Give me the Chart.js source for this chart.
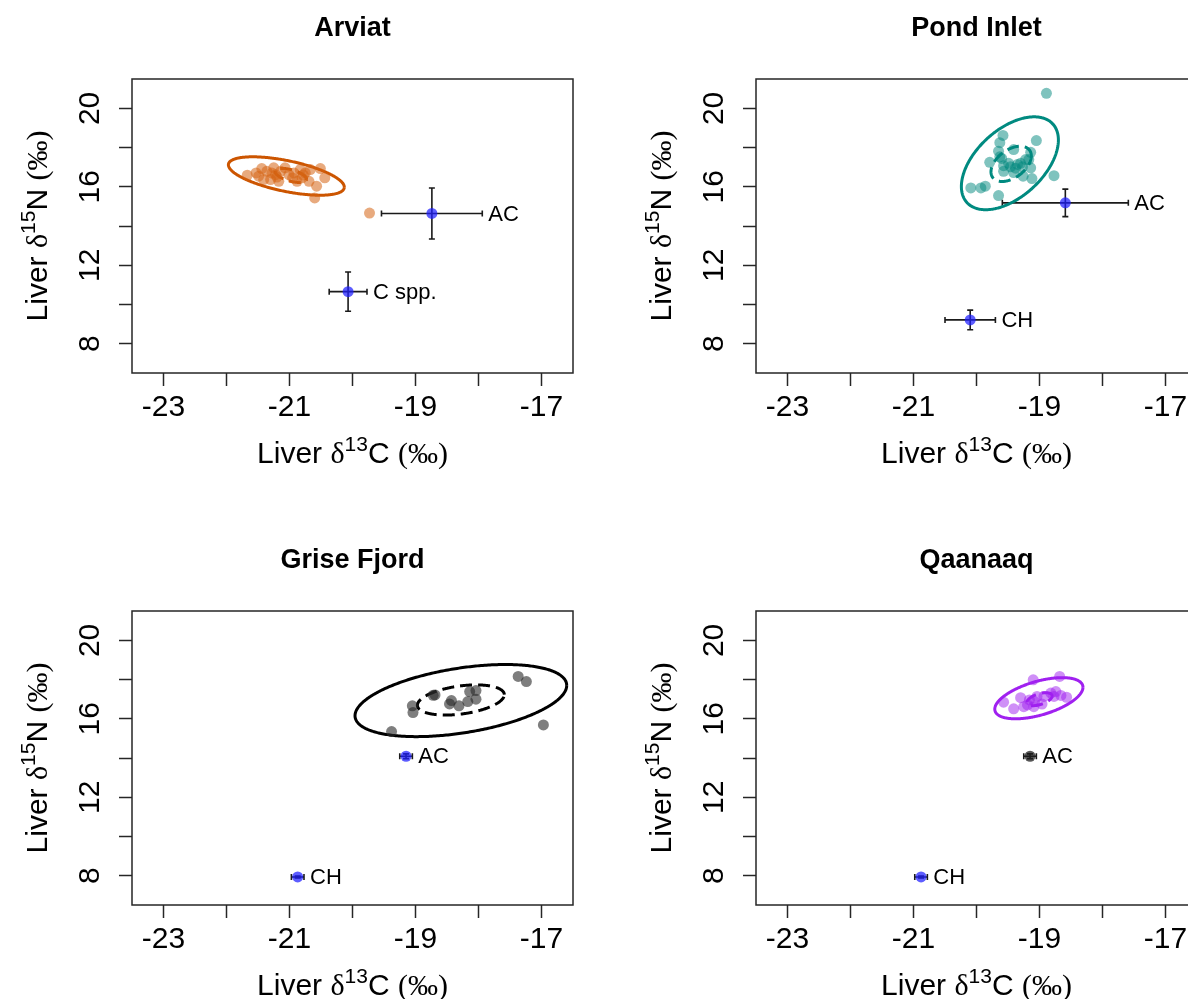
<!DOCTYPE html>
<html>
<head>
<meta charset="utf-8">
<script src="https://cdn.jsdelivr.net/npm/chart.js@4.4.1/dist/chart.umd.min.js"></script>
<style>
  html, body { margin: 0; padding: 0; background: #fff; overflow: hidden; }
  body { position: relative; width: 1188px; height: 999px; }
  canvas { position: absolute; }
</style>
</head>
<body>
<canvas id="arviat" width="594" height="500" style="left:0;top:0"></canvas>
<canvas id="pond" width="594" height="500" style="left:624px;top:0"></canvas>
<canvas id="grise" width="594" height="500" style="left:0;top:532px"></canvas>
<canvas id="qaanaaq" width="594" height="500" style="left:624px;top:532px"></canvas>
<script>
// axis ticks (shared by all four panels)
const xTicks = [-23, -22, -21, -20, -19, -18, -17];
const xTickLabels = [-23, -21, -19, -17];
const yTicks = [8, 10, 12, 14, 16, 18, 20];
const yTickLabels = [8, 12, 16, 20];

// Arviat consumers
const arviatC13 = [-21.67, -21.53, -21.44, -21.49, -21.36, -21.30, -21.25, -21.22, -21.14, -21.07, -21.01, -21.17, -20.83, -20.80, -20.88, -20.75, -20.67, -20.51, -20.44, -20.57, -20.60, -20.69, -21.41, -20.93, -21.28, -21.20, -20.95, -20.78, -19.73];
const arviatN15 = [16.59, 16.71, 16.93, 16.54, 16.79, 16.37, 16.97, 16.62, 16.79, 16.97, 16.62, 16.28, 16.88, 16.46, 16.28, 16.71, 16.88, 16.93, 16.46, 16.03, 15.43, 16.28, 16.37, 16.71, 16.70, 16.50, 16.45, 16.60, 14.66];
// ellipses: [mean C, mean N, sd C, sd N, correlation]
const arviatSEA = [-21.05, 16.55, 0.92, 0.98, -0.58];
const arviatInner = [-20.98, 16.58, 0.25, 0.36, -0.55];
// Arviat sources (mean +/- sd)
const arviatSrcNames = ['AC', 'C spp.'];
const arviatSrcC13 = [-18.74, -20.07];
const arviatSrcC13sd = [0.80, 0.30];
const arviatSrcN15 = [14.64, 10.65];
const arviatSrcN15sd = [1.30, 1.00];

// Pond Inlet
const pondC13 = [-18.89, -19.58, -19.63, -19.05, -19.41, -19.65, -19.63, -19.79, -19.14, -19.17, -19.57, -19.46, -19.35, -19.27, -19.22, -19.57, -19.41, -19.14, -19.26, -19.12, -18.77, -20.09, -19.93, -19.86, -19.65, -19.49, -19.30, -19.38, -19.60];
const pondN15 = [20.77, 18.62, 18.25, 18.36, 17.90, 17.82, 17.53, 17.25, 17.76, 17.39, 17.08, 17.02, 17.14, 17.02, 17.39, 16.79, 16.73, 16.97, 16.54, 16.42, 16.57, 15.94, 15.94, 16.03, 15.55, 17.20, 17.20, 16.95, 17.45];
const pondSEA = [-19.47, 17.20, 0.77, 2.37, 0.50];
const pondInner = [-19.45, 17.17, 0.32, 0.90, 0.45];
const pondSrcNames = ['AC', 'CH'];
const pondSrcC13 = [-18.59, -20.10];
const pondSrcC13sd = [1.00, 0.40];
const pondSrcN15 = [15.18, 9.21];
const pondSrcN15sd = [0.70, 0.50];

// Grise Fjord
const griseC13 = [-19.38, -19.05, -19.04, -18.69, -18.72, -18.43, -18.46, -18.31, -18.17, -18.14, -18.04, -18.04, -17.37, -17.24, -16.97];
const griseN15 = [15.35, 16.66, 16.32, 17.22, 17.20, 16.93, 16.76, 16.66, 16.88, 17.39, 17.44, 17.00, 18.16, 17.90, 15.69];
const griseSEA = [-18.28, 16.93, 1.68, 1.84, 0.42];
const griseInner = [-18.28, 16.96, 0.69, 0.77, 0.35];
const griseSrcNames = ['AC', 'CH'];
const griseSrcC13 = [-19.15, -20.87];
const griseSrcC13sd = [0.10, 0.10];
const griseSrcN15 = [14.09, 7.93];
const griseSrcN15sd = [0.12, 0.05];

// Qaanaaq
const qaanaaqC13 = [-19.10, -18.68, -19.57, -19.41, -19.30, -19.19, -19.16, -19.09, -19.08, -18.96, -18.93, -18.82, -18.77, -18.66, -18.57, -19.25, -19.04, -18.74];
const qaanaaqN15 = [17.99, 18.16, 16.85, 16.51, 17.08, 16.71, 16.96, 16.62, 16.88, 16.75, 17.14, 17.31, 17.14, 17.19, 17.10, 16.62, 17.14, 17.39];
const qaanaaqSEA = [-19.01, 17.05, 0.70, 1.05, 0.53];
const qaanaaqInner = [-19.00, 17.00, 0.20, 0.33, 0.50];
const qaanaaqSrcNames = ['AC', 'CH'];
const qaanaaqSrcC13 = [-19.15, -20.88];
const qaanaaqSrcC13sd = [0.10, 0.10];
const qaanaaqSrcN15 = [14.09, 7.93];
const qaanaaqSrcN15sd = [0.12, 0.05];

const SANS = '"Liberation Sans", Arial, sans-serif';
const SERIF = '"Liberation Serif", "Times New Roman", serif';
const BLUE = 'rgba(30, 30, 255, 0.72)';

const panels = [
  { id: 'arviat', title: 'Arviat', c13: arviatC13, n15: arviatN15, sea: arviatSEA, inner: arviatInner,
    line: '#cc5500', fillPt: 'rgba(214, 100, 20, 0.55)',
    src: { names: arviatSrcNames, c13: arviatSrcC13, c13sd: arviatSrcC13sd, n15: arviatSrcN15, n15sd: arviatSrcN15sd, colors: [BLUE, BLUE] } },
  { id: 'pond', title: 'Pond Inlet', c13: pondC13, n15: pondN15, sea: pondSEA, inner: pondInner,
    line: '#008a80', fillPt: 'rgba(0, 135, 125, 0.5)',
    src: { names: pondSrcNames, c13: pondSrcC13, c13sd: pondSrcC13sd, n15: pondSrcN15, n15sd: pondSrcN15sd, colors: [BLUE, BLUE] } },
  { id: 'grise', title: 'Grise Fjord', c13: griseC13, n15: griseN15, sea: griseSEA, inner: griseInner,
    line: '#000000', fillPt: 'rgba(40, 40, 40, 0.6)',
    src: { names: griseSrcNames, c13: griseSrcC13, c13sd: griseSrcC13sd, n15: griseSrcN15, n15sd: griseSrcN15sd, colors: [BLUE, BLUE] } },
  { id: 'qaanaaq', title: 'Qaanaaq', c13: qaanaaqC13, n15: qaanaaqN15, sea: qaanaaqSEA, inner: qaanaaqInner,
    line: '#a020f0', fillPt: 'rgba(160, 32, 240, 0.5)',
    src: { names: qaanaaqSrcNames, c13: qaanaaqSrcC13, c13sd: qaanaaqSrcC13sd, n15: qaanaaqSrcN15, n15sd: qaanaaqSrcN15sd, colors: ['rgba(30, 30, 30, 0.75)', BLUE] } }
];

// outline of a bivariate standard ellipse from its means, sds and correlation
function ellipsePoints(e) {
  const [cx, cy, sx, sy, rho] = e;
  const k = Math.sqrt(1 - rho * rho);
  const pts = [];
  for (let i = 0; i <= 180; i++) {
    const t = (i / 180) * 2 * Math.PI;
    pts.push({ x: cx + sx * Math.cos(t), y: cy + sy * (rho * Math.cos(t) + k * Math.sin(t)) });
  }
  return pts;
}

// draws "Liver δ<sup>NN</sup>X (‰)" centred on 0,0 at the current transform
function drawIsoLabel(ctx, sup, el) {
  const parts = [
    { t: 'Liver ', f: '30px ' + SANS, dy: 0 },
    { t: 'δ', f: '30px ' + SERIF, dy: 0 },
    { t: sup, f: '21px ' + SANS, dy: -12 },
    { t: el + ' ', f: '30px ' + SANS, dy: 0 },
    { t: '(‰)', f: '30px ' + SERIF, dy: 0 }
  ];
  let total = 0;
  parts.forEach(p => { ctx.font = p.f; p.w = ctx.measureText(p.t).width; total += p.w; });
  let x = -total / 2;
  ctx.textAlign = 'left';
  ctx.textBaseline = 'alphabetic';
  parts.forEach(p => {
    ctx.font = p.f;
    ctx.fillText(p.t, x, p.dy);
    x += p.w;
  });
}

function makeDecor(panel) {
  return {
    id: 'decor_' + panel.id,
    beforeDatasetsDraw(chart) {
      const { ctx, scales: { x, y } } = chart;
      const s = panel.src;
      ctx.save();
      ctx.strokeStyle = '#1a1a1a';
      ctx.lineWidth = 1.6;
      s.c13.forEach((c, i) => {
        const px = x.getPixelForValue(c);
        const py = y.getPixelForValue(s.n15[i]);
        const x0 = x.getPixelForValue(c - s.c13sd[i]);
        const x1 = x.getPixelForValue(c + s.c13sd[i]);
        const y0 = y.getPixelForValue(s.n15[i] - s.n15sd[i]);
        const y1 = y.getPixelForValue(s.n15[i] + s.n15sd[i]);
        ctx.beginPath();
        ctx.moveTo(x0, py); ctx.lineTo(x1, py);
        ctx.moveTo(x0, py - 3); ctx.lineTo(x0, py + 3);
        ctx.moveTo(x1, py - 3); ctx.lineTo(x1, py + 3);
        ctx.moveTo(px, y0); ctx.lineTo(px, y1);
        ctx.moveTo(px - 3, y0); ctx.lineTo(px + 3, y0);
        ctx.moveTo(px - 3, y1); ctx.lineTo(px + 3, y1);
        ctx.stroke();
      });
      ctx.restore();
    },
    afterDraw(chart) {
      const { ctx, chartArea: a, scales: { x, y } } = chart;
      const s = panel.src;
      ctx.save();
      // frame
      ctx.strokeStyle = '#262626';
      ctx.lineWidth = 1.5;
      ctx.strokeRect(a.left, a.top, a.right - a.left, a.bottom - a.top);
      // source labels
      ctx.fillStyle = '#000';
      ctx.font = '22px ' + SANS;
      ctx.textAlign = 'left';
      ctx.textBaseline = 'middle';
      s.names.forEach((n, i) => {
        const lx = x.getPixelForValue(s.c13[i] + s.c13sd[i]) + 6;
        ctx.fillText(n, lx, y.getPixelForValue(s.n15[i]) + 1);
      });
      // panel title
      const cx = (a.left + a.right) / 2;
      ctx.font = 'bold 27px ' + SANS;
      ctx.textAlign = 'center';
      ctx.textBaseline = 'alphabetic';
      ctx.fillText(panel.title, cx, 36);
      // axis titles
      ctx.save();
      ctx.translate(cx, 463);
      drawIsoLabel(ctx, '13', 'C');
      ctx.restore();
      ctx.save();
      ctx.translate(47, (a.top + a.bottom) / 2);
      ctx.rotate(-Math.PI / 2);
      drawIsoLabel(ctx, '15', 'N');
      ctx.restore();
      ctx.restore();
    }
  };
}

function buildChart(panel) {
  const consumers = panel.c13.map((c, i) => ({ x: c, y: panel.n15[i] }));
  const sources = panel.src.c13.map((c, i) => ({ x: c, y: panel.src.n15[i] }));
  new Chart(document.getElementById(panel.id), {
    type: 'scatter',
    data: {
      datasets: [
        { data: sources, pointRadius: 5.5, pointBackgroundColor: panel.src.colors, pointBorderWidth: 0 },
        { data: consumers, pointRadius: 5.5, pointBackgroundColor: panel.fillPt, pointBorderWidth: 0 },
        { data: ellipsePoints(panel.inner), showLine: true, pointRadius: 0, borderColor: panel.line, borderWidth: 3, borderDash: [12, 6], tension: 0.1 },
        { data: ellipsePoints(panel.sea), showLine: true, pointRadius: 0, borderColor: panel.line, borderWidth: 3, tension: 0.1 }
      ]
    },
    options: {
      responsive: false,
      animation: false,
      devicePixelRatio: 1,
      layout: { padding: { left: 0, right: 21, top: 79, bottom: 0 } },
      plugins: { legend: { display: false }, tooltip: { enabled: false }, title: { display: false } },
      scales: {
        x: {
          type: 'linear', min: -23.5, max: -16.5,
          afterBuildTicks: s => { s.ticks = xTicks.map(v => ({ value: v })); },
          afterFit: s => { s.height = 127; },
          grid: { drawOnChartArea: false, drawTicks: true, tickLength: 13, tickColor: '#262626', tickWidth: 1.5 },
          border: { display: false },
          ticks: { autoSkip: false, maxRotation: 0, padding: 4, color: '#000', font: { family: SANS, size: 30 },
            callback: v => xTickLabels.includes(v) ? String(v) : '' }
        },
        y: {
          type: 'linear', min: 6.5, max: 21.5,
          afterBuildTicks: s => { s.ticks = yTicks.map(v => ({ value: v })); },
          afterFit: s => { s.width = 132; },
          grid: { drawOnChartArea: false, drawTicks: true, tickLength: 13, tickColor: '#262626', tickWidth: 1.5 },
          border: { display: false },
          ticks: { autoSkip: false, minRotation: 90, maxRotation: 90, crossAlign: 'center', padding: 12, color: '#000',
            font: { family: SANS, size: 30 },
            callback: v => yTickLabels.includes(v) ? String(v) : '' }
        }
      }
    },
    plugins: [makeDecor(panel)]
  });
}

panels.forEach(buildChart);
</script>
</body>
</html>
